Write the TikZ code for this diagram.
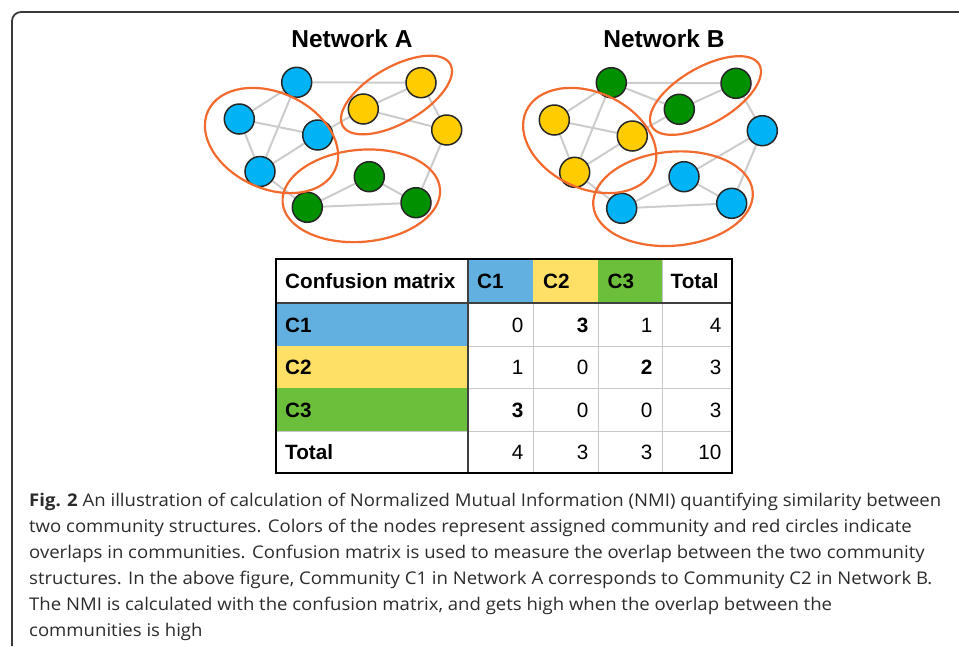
\documentclass[tikz,border=0pt]{standalone}
\usepackage{fontspec}
\setmainfont{Liberation Sans}
\newfontfamily\capfont[FakeStretch=1.06]{Open Sans}
\usetikzlibrary{shapes.geometric,backgrounds}
\definecolor{nblue}{HTML}{00B3F5}
\definecolor{nyellow}{HTML}{FFCC00}
\definecolor{ngreen}{HTML}{009000}
\definecolor{egray}{HTML}{CCCCCC}
\definecolor{ring}{HTML}{F26A2E}
\definecolor{tblue}{HTML}{62B0E0}
\definecolor{tyellow}{HTML}{FFE066}
\definecolor{tgreen}{HTML}{6CBF3A}
\definecolor{framec}{HTML}{3A3A3A}
\definecolor{captc}{HTML}{2B2B2B}
\definecolor{gridc}{HTML}{C8C8C8}
\tikzset{
  vtx/.style={circle, draw=black!85, line width=1.5pt, minimum size=30pt, inner sep=0pt},
  bv/.style={vtx, fill=nblue},
  yv/.style={vtx, fill=nyellow},
  gv/.style={vtx, fill=ngreen},
  edge/.style={draw=egray, line width=2pt},
  ringe/.style={ellipse, draw=ring, line width=2.2pt, inner sep=0pt},
  title/.style={font=\fontsize{24.5}{28}\selectfont\bfseries, anchor=base},
  lab/.style={font=\fontsize{20.7}{24}\selectfont\bfseries, anchor=base west, inner sep=0pt},
  num/.style={font=\fontsize{20.7}{24}\selectfont, anchor=base east, inner sep=0pt},
  bnum/.style={num, font=\fontsize{20.7}{24}\selectfont\bfseries},
  capl/.style={font=\capfont\fontsize{17.5}{24}\selectfont, text=captc, anchor=base west, inner sep=0pt},
}
\begin{document}
\begin{tikzpicture}[x=1pt,y=-1pt]
\useasboundingbox (0,0) rectangle (959,646);
% frame
\draw[framec, line width=1.8pt, rounded corners=9pt] (12,646) -- (12,12) -- (959,12);

% titles
\node[title] (tA) at (352,47) {Network A};
\node[title] (tB) at (664,47) {Network B};

% Network A vertices
\node[bv] (a1) at (296.7,82.3) {};
\node[bv] (a2) at (239.3,119) {};
\node[bv] (a3) at (317.7,135) {};
\node[bv] (a4) at (260,171.5) {};
\node[yv] (a5) at (421,82.7) {};
\node[yv] (a6) at (363.3,109) {};
\node[yv] (a7) at (446.7,130) {};
\node[gv] (a8) at (369.3,176.7) {};
\node[gv] (a9) at (307.3,207.3) {};
\node[gv] (a10) at (416,202.7) {};

% Network B vertices
\node[gv] (b1) at (611.3,82.7) {};
\node[yv] (b2) at (554.3,120) {};
\node[yv] (b3) at (632.3,136) {};
\node[yv] (b4) at (574.7,172.3) {};
\node[gv] (b5) at (736,83.3) {};
\node[gv] (b6) at (679.3,109.3) {};
\node[bv] (b7) at (762.3,130.7) {};
\node[bv] (b8) at (684,176.7) {};
\node[bv] (b9) at (621.7,208.3) {};
\node[bv] (b10) at (731.7,203.3) {};

\begin{scope}[on background layer]
\draw[edge] (a1) -- (a2);
\draw[edge] (a1) -- (a4);
\draw[edge] (a2) -- (a3);
\draw[edge] (a2) -- (a4);
\draw[edge] (a3) -- (a4);
\draw[edge] (a3) -- (a6);
\draw[edge] (a1) -- (a5);
\draw[edge] (a5) -- (a6);
\draw[edge] (a6) -- (a7);
\draw[edge] (a5) -- (a7);
\draw[edge] (a7) -- (a10);
\draw[edge] (a4) -- (a9);
\draw[edge] (a9) -- (a8);
\draw[edge] (a8) -- (a10);
\draw[edge] (a9) -- (a10);

\draw[edge] (b1) -- (b2);
\draw[edge] (b1) -- (b4);
\draw[edge] (b2) -- (b3);
\draw[edge] (b2) -- (b4);
\draw[edge] (b4) -- (b3);
\draw[edge] (b3) -- (b6);
\draw[edge] (b1) -- (b6);
\draw[edge] (b1) -- (b5);
\draw[edge] (b6) -- (b5);
\draw[edge] (b5) -- (b7);
\draw[edge] (b7) -- (b8);
\draw[edge] (b7) -- (b10);
\draw[edge] (b8) -- (b10);
\draw[edge] (b8) -- (b9);
\draw[edge] (b9) -- (b10);
\draw[edge] (b4) -- (b9);
\end{scope}

% rings
\node[ringe, minimum width=140pt, minimum height=96pt, rotate=-25] (rA1) at (271.5,140.5) {};
\node[ringe, minimum width=124pt, minimum height=56pt, rotate=30] (rA2) at (396.5,95) {};
\node[ringe, minimum width=158pt, minimum height=92pt, rotate=5] (rA3) at (361.3,195.8) {};
\node[ringe, minimum width=140pt, minimum height=96pt, rotate=-25] (rB1) at (589.7,140.5) {};
\node[ringe, minimum width=124pt, minimum height=56pt, rotate=30] (rB2) at (705.5,95.5) {};
\node[ringe, minimum width=160pt, minimum height=94pt, rotate=5] (rB3) at (673,198.7) {};

% table fills
\fill[tblue] (468,259) rectangle (533,303);
\fill[tyellow] (533,259) rectangle (598,303);
\fill[tgreen] (598,259) rectangle (662,303);
\fill[tblue] (276,303) rectangle (468,346);
\fill[tyellow] (276,346) rectangle (468,388);
\fill[tgreen] (276,388) rectangle (468,431);
% grid
\draw[gridc, line width=1pt] (533,303) -- (533,473) (598,303) -- (598,473) (662,259) -- (662,473);
\draw[gridc, line width=1pt] (468,346) -- (732,346) (468,388) -- (732,388) (276,431) -- (732,431);
\draw[black!75, line width=1.5pt] (276,303) -- (732,303) (468,259) -- (468,473);
\draw[black, line width=2pt] (276,259) rectangle (732,473);

% table text
\node[lab] (h0) at (285,288.5) {Confusion matrix};
\node[lab] (h1) at (477,288.5) {C1};
\node[lab] (h2) at (543,288.5) {C2};
\node[lab] (h3) at (607.5,288.5) {C3};
\node[lab] (h4) at (670.5,288.5) {Total};
\node[lab] (r1) at (285,332) {C1};
\node[lab] (r2) at (285,374.5) {C2};
\node[lab] (r3) at (285,417) {C3};
\node[lab] (r4) at (285,459.5) {Total};

\node[num] (m11) at (523.5,332) {0};
\node[bnum] (m12) at (588.5,332) {3};
\node[num] (m13) at (652.5,332) {1};
\node[num] (m14) at (721.5,332) {4};
\node[num] (m21) at (523.5,374.5) {1};
\node[num] (m22) at (588.5,374.5) {0};
\node[bnum] (m23) at (652.5,374.5) {2};
\node[num] (m24) at (721.5,374.5) {3};
\node[bnum] (m31) at (523.5,417) {3};
\node[num] (m32) at (588.5,417) {0};
\node[num] (m33) at (652.5,417) {0};
\node[num] (m34) at (721.5,417) {3};
\node[num] (m41) at (523.5,459.5) {4};
\node[num] (m42) at (588.5,459.5) {3};
\node[num] (m43) at (652.5,459.5) {3};
\node[num] (m44) at (721.5,459.5) {10};

% caption
\node[capl] (c1) at (29,506.5) {\textbf{Fig. 2} An illustration of calculation of Normalized Mutual Information (NMI) quantifying similarity between};
\node[capl] (c2) at (29,532.5) {two community structures. Colors of the nodes represent assigned community and red circles indicate};
\node[capl] (c3) at (29,558.5) {overlaps in communities. Confusion matrix is used to measure the overlap between the two community};
\node[capl] (c4) at (29,584.5) {structures. In the above figure, Community C1 in Network A corresponds to Community C2 in Network B.};
\node[capl] (c5) at (29,610.5) {The NMI is calculated with the confusion matrix, and gets high when the overlap between the};
\node[capl] (c6) at (29,636.5) {communities is high};
\end{tikzpicture}
\end{document}
